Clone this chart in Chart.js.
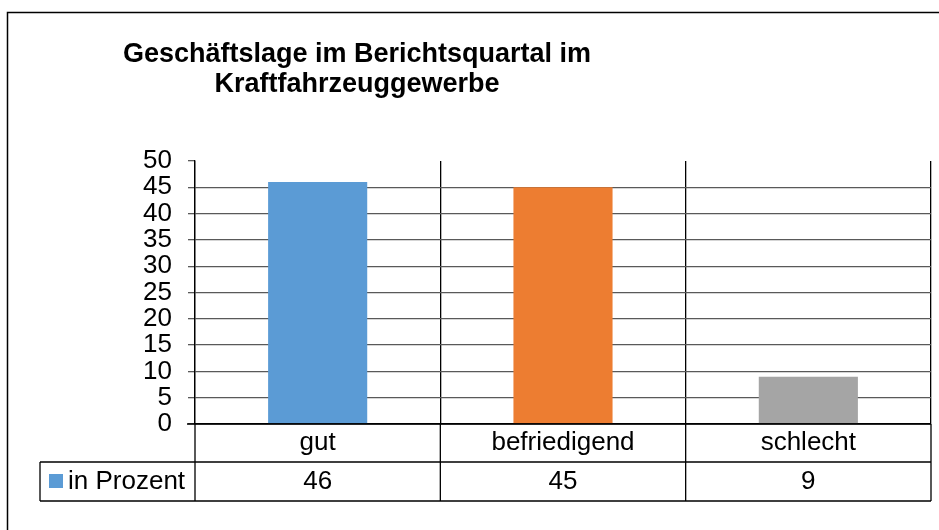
<!DOCTYPE html>
<html lang="de">
<head>
<meta charset="utf-8">
<title>Geschäftslage im Berichtsquartal im Kraftfahrzeuggewerbe</title>
<script src="https://cdn.jsdelivr.net/npm/chart.js@4/dist/chart.umd.min.js"></script>
<style>
  html, body { margin: 0; padding: 0; background: #fff; }
  canvas { display: block; }
</style>
</head>
<body>
<canvas id="chart" width="939" height="530"></canvas>
<script>
const categories = ['gut', 'befriedigend', 'schlecht'];
const seriesName = 'in Prozent';
const values = [46, 45, 9];
const barColors = ['#5B9BD5', '#ED7D31', '#A5A5A5'];
const titleLines = ['Geschäftslage im Berichtsquartal im', 'Kraftfahrzeuggewerbe'];
const yMax = 50;

const FONT = '"Liberation Sans", Arial, sans-serif';

// Excel-style data table under the plot, plus title and frame
const tablePlugin = {
  id: 'dataTable',
  afterDraw(chart) {
    const ctx = chart.ctx;
    const area = chart.chartArea;
    const x = chart.scales.x;
    const rowTop = area.bottom;
    const rowMid = 462;
    const rowBottom = 501;
    const legendLeft = 40;
    const step = x.getPixelForValue(1) - x.getPixelForValue(0);

    ctx.save();

    // outer frame
    ctx.strokeStyle = '#000';
    ctx.lineWidth = 1.5;
    ctx.strokeRect(7.5, 12.5, chart.width + 20, chart.height + 20);

    // title
    ctx.fillStyle = '#000';
    ctx.font = 'bold 27px ' + FONT;
    ctx.textAlign = 'center';
    ctx.textBaseline = 'alphabetic';
    titleLines.forEach((line, i) => ctx.fillText(line, 357, 62 + i * 30));

    // table grid
    ctx.lineWidth = 1.3;
    ctx.beginPath();
    ctx.moveTo(area.left - 8, rowTop); ctx.lineTo(area.right, rowTop);
    ctx.moveTo(legendLeft, rowMid); ctx.lineTo(area.right, rowMid);
    ctx.moveTo(legendLeft, rowBottom); ctx.lineTo(area.right, rowBottom);
    ctx.moveTo(legendLeft, rowMid); ctx.lineTo(legendLeft, rowBottom);
    for (let i = 0; i <= categories.length; i++) {
      const px = i < categories.length ? x.getPixelForValue(i) - step / 2 : area.right;
      ctx.moveTo(px, rowTop); ctx.lineTo(px, rowBottom);
    }
    ctx.stroke();

    // legend key
    ctx.fillStyle = barColors[0];
    ctx.fillRect(49, 474, 14, 14);
    ctx.fillStyle = '#000';
    ctx.font = '26px ' + FONT;
    ctx.textAlign = 'left';
    ctx.textBaseline = 'middle';
    ctx.fillText(seriesName, 68, 482);

    // values row
    ctx.textAlign = 'center';
    values.forEach((v, i) => ctx.fillText(String(v), x.getPixelForValue(i), 482));

    ctx.restore();
  }
};

new Chart(document.getElementById('chart'), {
  type: 'bar',
  data: {
    labels: categories,
    datasets: [{
      label: seriesName,
      data: values,
      backgroundColor: barColors,
      borderWidth: 0,
      categoryPercentage: 1,
      barPercentage: 0.404
    }]
  },
  options: {
    responsive: false,
    animation: false,
    layout: { padding: { top: 161, right: 8, bottom: 0, left: 0 } },
    plugins: {
      legend: { display: false },
      title: { display: false },
      tooltip: { enabled: false }
    },
    scales: {
      x: {
        afterFit: scale => { scale.height = 106; },
        grid: { offset: true, color: '#000', lineWidth: 1.3, drawTicks: false },
        border: { color: '#000', width: 1.3 },
        ticks: {
          color: '#000',
          padding: 6,
          font: { family: FONT, size: 26, lineHeight: 1 }
        }
      },
      y: {
        min: 0,
        max: yMax,
        afterFit: scale => { scale.width = 195; },
        grid: {
          // no gridline along the top edge, only its tick mark
          color: c => (c.tick && c.tick.value === yMax ? 'rgba(0,0,0,0)' : '#595959'),
          tickColor: '#595959',
          lineWidth: 1.3,
          tickLength: 7
        },
        border: { color: '#000', width: 1.3 },
        ticks: {
          stepSize: 5,
          autoSkip: false,
          color: '#000',
          padding: 16,
          font: { family: FONT, size: 26, lineHeight: 1 }
        }
      }
    }
  },
  plugins: [tablePlugin]
});
</script>
</body>
</html>
